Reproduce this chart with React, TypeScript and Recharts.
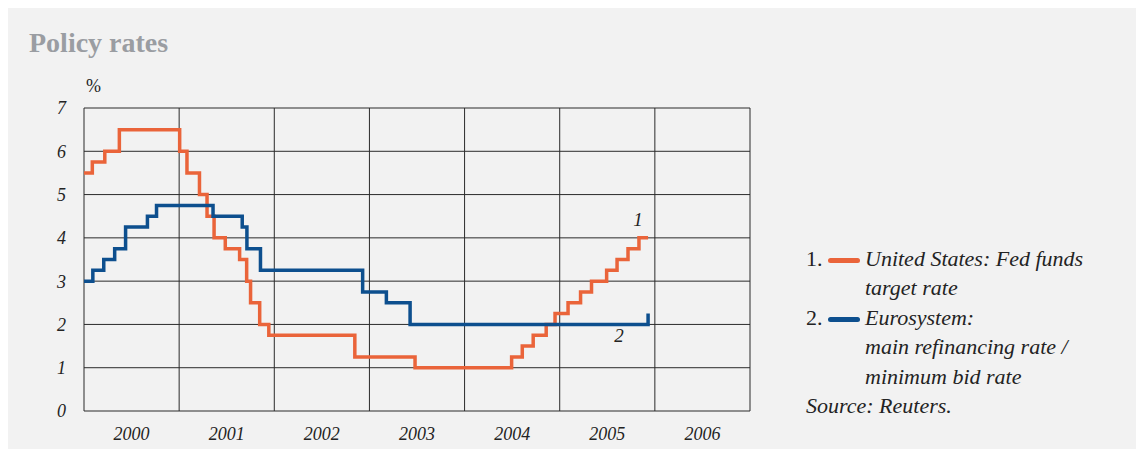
import { LineChart, Line, XAxis, YAxis, CartesianGrid } from "recharts";

// Fed funds target rate, change dates and new levels
const fedDates = [
  "2000-01-01", "2000-02-02", "2000-03-21", "2000-05-16",
  "2001-01-03", "2001-01-31", "2001-03-20", "2001-04-18", "2001-05-15",
  "2001-06-27", "2001-08-21", "2001-09-17", "2001-10-02", "2001-11-06",
  "2001-12-11", "2002-11-06", "2003-06-25", "2004-06-30", "2004-08-10",
  "2004-09-21", "2004-11-10", "2004-12-14", "2005-02-02", "2005-03-22",
  "2005-05-03", "2005-06-30", "2005-08-09", "2005-09-20", "2005-11-01",
  "2005-12-06",
];
const fedRates = [
  5.5, 5.75, 6.0, 6.5,
  6.0, 5.5, 5.0, 4.5, 4.0,
  3.75, 3.5, 3.0, 2.5, 2.0,
  1.75, 1.25, 1.0, 1.25, 1.5,
  1.75, 2.0, 2.25, 2.5, 2.75,
  3.0, 3.25, 3.5, 3.75, 4.0,
  4.0,
];

// Eurosystem main refinancing / minimum bid rate
const ecbDates = [
  "2000-01-01", "2000-02-04", "2000-03-17", "2000-04-28", "2000-06-09",
  "2000-09-01", "2000-10-06", "2001-05-11", "2001-08-31", "2001-09-18",
  "2001-11-09", "2002-12-06", "2003-03-07", "2003-06-06", "2005-12-06",
];
const ecbRates = [
  3.0, 3.25, 3.5, 3.75, 4.25,
  4.5, 4.75, 4.5, 4.25, 3.75,
  3.25, 2.75, 2.5, 2.0, 2.25,
];

const yearBounds = [2000, 2001, 2002, 2003, 2004, 2005, 2006, 2007];
const yearLabels = ["2000", "2001", "2002", "2003", "2004", "2005", "2006"];
const rateTicks = [0, 1, 2, 3, 4, 5, 6, 7];

const ORANGE = "#ea643a";
const BLUE = "#0d4f8e";
const FONT = "'Liberation Serif', 'DejaVu Serif', serif";
const INK = "#232323";

function toYear(d: string) {
  const [y, m, dd] = d.split("-").map(Number);
  const start = Date.UTC(y, 0, 1);
  const end = Date.UTC(y + 1, 0, 1);
  return y + (Date.UTC(y, m - 1, dd) - start) / (end - start);
}

const fedData = fedDates.map((d, i) => ({ t: toYear(d), rate: fedRates[i] }));
const ecbData = ecbDates.map((d, i) => ({ t: toYear(d), rate: ecbRates[i] }));
const labelTicks = yearLabels.map((y) => Number(y) + 0.5);

function SeriesTag(props: any, tag: string, at: number, dx: number, dy: number) {
  const { x, y, index } = props;
  if (index !== at) return null;
  return (
    <text x={x + dx} y={y + dy} textAnchor="middle" fontFamily={FONT} fontStyle="italic" fontSize={19} fill={INK}>
      {tag}
    </text>
  );
}

function Swatch({ color }: { color: string }) {
  return <span style={{ display: "inline-block", width: 32, height: 5, borderRadius: 3, background: color, marginRight: 5, verticalAlign: "middle" }} />;
}

// Numbered key plus source note, to the right of the plot
function KeyBox() {
  const row = { height: 29.4, lineHeight: "29.4px", whiteSpace: "nowrap" as const };
  const indent = { ...row, paddingLeft: 59 };
  const num = { display: "inline-block", width: 22, fontStyle: "normal" };
  return (
    <div style={{ position: "absolute", left: 800, top: 236, fontFamily: FONT, fontStyle: "italic", fontSize: 22, color: INK }}>
      <div style={row}><span style={num}>1.</span><Swatch color={ORANGE} />United States: Fed funds</div>
      <div style={indent}>target rate</div>
      <div style={row}><span style={num}>2.</span><Swatch color={BLUE} />Eurosystem:</div>
      <div style={indent}>main refinancing rate /</div>
      <div style={indent}>minimum bid rate</div>
      <div style={row}>Source: Reuters.</div>
    </div>
  );
}

export default function App() {
  return (
    <div style={{ position: "relative", marginLeft: -2, width: 1138, height: 441, background: "#f2f2f2", overflow: "hidden" }}>
      <div style={{ position: "absolute", left: 23, top: 19, fontFamily: FONT, fontSize: 28, fontWeight: 700, color: "#9a9da2" }}>
        Policy rates
      </div>
      <div style={{ position: "absolute", left: 80, top: 68, fontFamily: FONT, fontSize: 18, color: INK }}>%</div>
      <LineChart width={1138} height={441} data={fedData} margin={{ top: 100, right: 394, bottom: 0, left: 0 }}>
        <CartesianGrid xAxisId="grid" stroke="#2b2b2b" strokeWidth={1} />
        <XAxis xAxisId="grid" dataKey="t" type="number" domain={[2000, 2007]} ticks={yearBounds} height={0} hide />
        <XAxis
          xAxisId="labels"
          dataKey="t"
          type="number"
          domain={[2000, 2007]}
          ticks={labelTicks}
          interval={0}
          tickFormatter={(v: number) => String(Math.floor(v))}
          height={38}
          axisLine={false}
          tickLine={false}
          tickSize={0}
          tickMargin={16}
          tick={{ fontFamily: FONT, fontStyle: "italic", fontSize: 18, fill: INK }}
        />
        <YAxis
          domain={[0, 7]}
          ticks={rateTicks}
          interval={0}
          width={78}
          axisLine={false}
          tickLine={false}
          tickSize={0}
          tickMargin={18}
          tick={{ fontFamily: FONT, fontStyle: "italic", fontSize: 18, fill: INK }}
        />
        <Line
          xAxisId="grid"
          data={fedData}
          dataKey="rate"
          type="stepAfter"
          stroke={ORANGE}
          strokeWidth={3.5}
          dot={false}
          isAnimationActive={false}
          label={(p: any) => SeriesTag(p, "1", fedData.length - 2, -1, -12)}
        />
        <Line
          xAxisId="grid"
          data={ecbData}
          dataKey="rate"
          type="stepAfter"
          stroke={BLUE}
          strokeWidth={3.5}
          dot={false}
          isAnimationActive={false}
          label={(p: any) => SeriesTag(p, "2", ecbData.length - 1, -29, 28)}
        />
      </LineChart>
      <KeyBox />
    </div>
  );
}
